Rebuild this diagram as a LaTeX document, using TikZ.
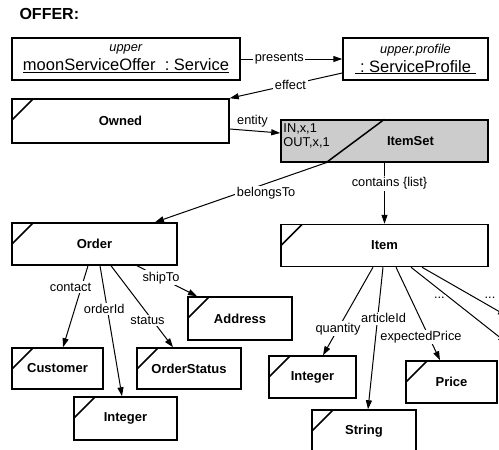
\documentclass[tikz,border=0pt]{standalone}
\usepackage{fontspec}
\setmainfont{Liberation Sans}
\usetikzlibrary{arrows.meta,positioning}

\tikzset{
  box/.style = {draw, line width=1.5pt, minimum height=42pt, inner sep=2pt, align=center},
  cls/.style = {box, font=\fontsize{13}{15}\selectfont\bfseries,
    path picture={\draw[line width=1.5pt]
      ([yshift=-21pt]path picture bounding box.north west) --
      ([xshift=21pt]path picture bounding box.north west);}},
  rel/.style = {draw, line width=1pt, -{Triangle[length=9pt,width=6pt]}},
  lbl/.style = {fill=white, inner sep=1.5pt, font=\fontsize{12.8}{14}\selectfont},
}

\begin{document}
\begin{tikzpicture}[x=1pt, y=-1pt, font=\fontsize{12.8}{14}\selectfont]
    \useasboundingbox (0,0) rectangle (499,450);
    \clip (0,0) rectangle (499,450);

    \node[anchor=west, font=\fontsize{16}{18}\selectfont\bfseries] (title) at (16,14) {OFFER:};

    % instances
    \node[box, minimum width=228pt] (svc) at (126,59)
      {\textit{upper}\\[3.5pt]{\fontsize{16.5}{18}\selectfont\underline{moonServiceOffer\ \ :\ Service}}};
    \node[box, minimum width=145pt] (prof) at (415.5,59)
      {\textit{upper.profile}\\[3.5pt]{\fontsize{16.5}{18}\selectfont\underline{\ :\ ServiceProfile\ }}};

    % classes
    \node[cls, minimum width=217pt, minimum height=44pt] (owned) at (120.5,121) {Owned};
    \node[box, fill=black!20, minimum width=207pt] (itemset) at (384.5,141) {};
    \draw[line width=1.5pt] ([xshift=-58.5pt]itemset.south) -- (itemset.north);
    \node[anchor=north west, align=left, inner sep=2pt] (inout) at ([xshift=1pt,yshift=-2pt]itemset.north west) {IN,x,1\\OUT,x,1};
    \node[font=\fontsize{13}{15}\selectfont\bfseries] (setname) at ([xshift=26pt]itemset.center) {ItemSet};

    \node[cls, minimum width=165pt] (order) at (94.5,244) {Order};
    \node[cls, minimum width=207pt, below=61pt of itemset] (item) {Item};

    \node[cls, minimum width=104pt, minimum height=43pt] (addr) at (240,318.5) {Address};
    \node[cls, minimum width=91pt, minimum height=41pt] (cust) at (57.5,368.5) {Customer};
    \node[cls, minimum width=104pt, minimum height=41pt] (ostat) at (189,368.5) {OrderStatus};
    \node[cls, minimum width=103pt, minimum height=43pt] (oint) at (125.5,418.5) {Integer};

    \node[cls, minimum width=87pt] (iint) at (312.5,377) {Integer};
    \node[cls, minimum width=104pt] (str) at (364,431) {String};
    \node[cls, minimum width=91pt] (price) at (451.5,382) {Price};

    \coordinate (more1) at (507,343);
    \coordinate (more2) at (507,316);

    % relations
    \draw[rel] (svc.east) -- node[lbl, pos=0.38] {presents} (prof.west);
    \draw[rel] ([yshift=-14pt]prof.west) -- node[lbl, pos=0.46] {effect} (owned.north east);
    \draw[rel] ([yshift=-8pt]owned.east) -- node[above, pos=0.45] {entity} ([yshift=8pt]itemset.west);
    \draw[rel] ([xshift=-58.5pt]itemset.south) -- node[lbl, pos=0.35, yshift=-10pt] {belongsTo} ([xshift=60.5pt]order.north);
    \draw[rel] (itemset.south) -- node[lbl, pos=0.34, xshift=5pt] {contains \{list\}} (item.north);

    \draw[rel] ([xshift=-6.5pt]order.south) -- node[lbl, pos=0.26, xshift=-11pt] {contact} ([xshift=5.5pt]cust.north);
    \draw[rel] ([xshift=5.5pt]order.south) -- node[lbl, pos=0.33, xshift=-3pt] {orderId} ([xshift=-3.5pt]oint.north);
    \draw[rel] ([xshift=16.5pt]order.south) -- node[lbl, pos=0.67, xshift=-5pt] {status} ([xshift=-16pt]ostat.north);
    \draw[rel] ([xshift=42.5pt]order.south) -- node[lbl, pos=0.4] {shipTo} ([xshift=-43pt]addr.north);

    \draw[rel] ([xshift=-11.5pt]item.south) -- node[lbl, pos=0.7] {quantity} ([xshift=10.5pt]iint.north);
    \draw[rel] ([xshift=-1.5pt]item.south) -- node[lbl, pos=0.36, xshift=6pt] {articleId} ([xshift=4pt]str.north);
    \draw[rel] ([xshift=11.5pt]item.south) -- node[lbl, pos=0.75, xshift=-8pt] {expectedPrice} ([xshift=-11.5pt]price.north);
    \draw[rel] ([xshift=26.5pt]item.south) -- node[lbl, pos=0.4, xshift=-10pt] {...} (more1);
    \draw[rel] ([xshift=37.5pt]item.south) -- node[lbl, pos=0.8, yshift=8pt] {...} (more2);
\end{tikzpicture}
\end{document}
